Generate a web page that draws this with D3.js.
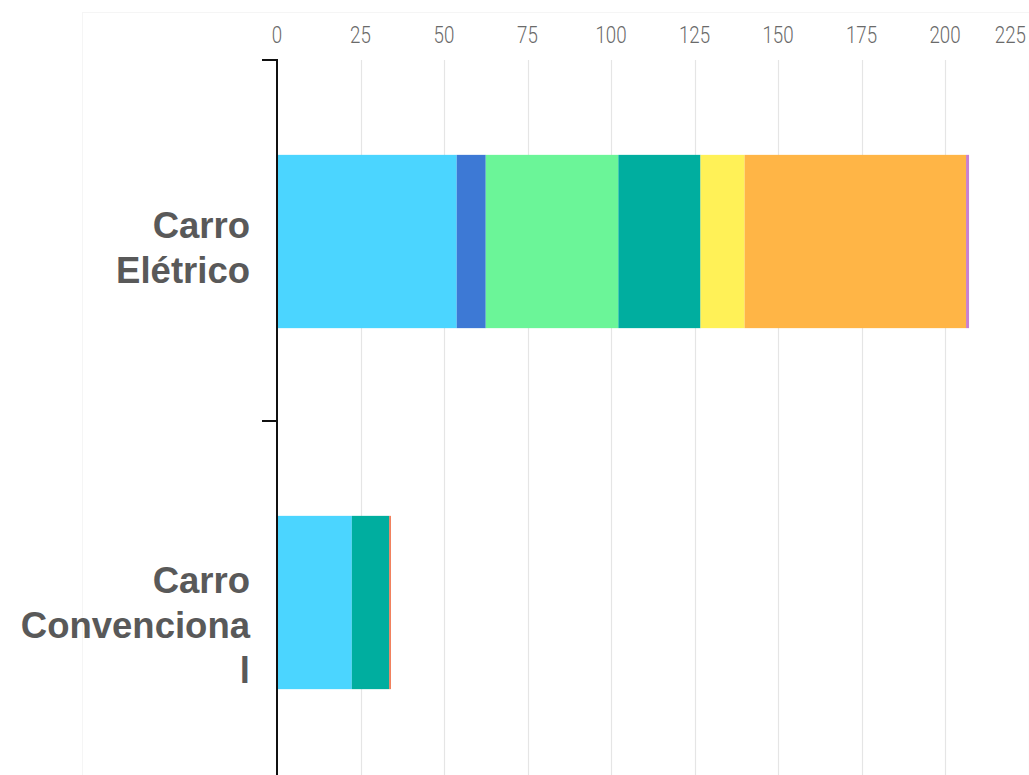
<!DOCTYPE html>
<html>
<head>
<meta charset="utf-8">
<script src="https://cdn.jsdelivr.net/npm/d3@7"></script>
<style>
  html, body { margin: 0; padding: 0; background: #ffffff; }
  svg { display: block; }
</style>
</head>
<body>
<svg id="chart" width="1029" height="775"></svg>
<script>
// Categories shown on the vertical axis
const categories = ["Carro Elétrico", "Carro Convencional"];

// Stacked segments, one array per series (same order as categories)
const seriesNames = ["Série 1", "Série 2", "Série 3", "Série 4", "Série 5", "Série 6", "Série 7", "Série 8"];
const serie1 = [53.8, 22.4];
const serie2 = [8.7, 0];
const serie3 = [39.7, 0];
const serie4 = [24.6, 11.2];
const serie5 = [13.2, 0];
const serie6 = [66.3, 0];
const serie7 = [0.9, 0];
const serie8 = [0, 0.5];

const seriesColors = ["#4bd5ff", "#3d79d5", "#6bf598", "#00ae9f", "#fff157", "#ffb546", "#c880d0", "#f0734c"];

// Axis tick values
const xTicks = [0, 25, 50, 75, 100, 125, 150, 175, 200, 225];

const allSeries = [serie1, serie2, serie3, serie4, serie5, serie6, serie7, serie8];
const rows = categories.map((c, i) => {
  const r = { category: c };
  seriesNames.forEach((s, k) => { r[s] = allSeries[k][i]; });
  return r;
});

const W = 1029, H = 775;
const svg = d3.select("#chart");

const x = d3.scaleLinear().domain([0, 225]).range([277, 1028.5]);
const y = d3.scaleBand().domain(categories).range([60, 782]).padding(0);
const barH = y.bandwidth() * 0.48;

// faint outer frame
svg.append("rect")
  .attr("x", 82.5).attr("y", 12.5)
  .attr("width", W).attr("height", H)
  .attr("fill", "none").attr("stroke", "#f5f5f5").attr("stroke-width", 1);

// vertical gridlines
svg.append("g").selectAll("line")
  .data(xTicks.filter(d => d > 0))
  .join("line")
  .attr("x1", d => Math.round(x(d)) + 0.5)
  .attr("x2", d => Math.round(x(d)) + 0.5)
  .attr("y1", 60).attr("y2", H)
  .attr("stroke", "#e5e5e5").attr("stroke-width", 1.2);

// top tick labels (narrow, tall digits)
const sx = 0.78;
const tickG = svg.append("g");
tickG.selectAll("text")
  .data(xTicks)
  .join("text")
  .attr("text-anchor", "middle")
  .attr("font-family", "Roboto, 'Liberation Sans', sans-serif")
  .attr("font-weight", 300)
  .attr("font-size", 24)
  .attr("fill", "#6a6a6a")
  .text(d => d)
  .each(function (d) {
    const sel = d3.select(this);
    const w = this.getComputedTextLength() * sx;
    let px = x(d);
    if (px + w / 2 > W - 3) px = W - 3 - w / 2;
    sel.attr("transform", `translate(${px},43) scale(${sx},1)`);
  });

// stacked bars
const stack = d3.stack().keys(seriesNames);
const layers = stack(rows);

svg.append("g").selectAll("g")
  .data(layers)
  .join("g")
  .attr("fill", (d, i) => seriesColors[i])
  .selectAll("rect")
  .data(d => d.filter(p => p[1] - p[0] > 0))
  .join("rect")
  .attr("x", p => x(p[0]))
  .attr("width", p => x(p[1]) - x(p[0]))
  .attr("y", p => y(p.data.category) + (y.bandwidth() - barH) / 2 + 1)
  .attr("height", barH);

// vertical axis line with band boundary ticks
const axisG = svg.append("g");
axisG.append("line")
  .attr("x1", 277).attr("x2", 277)
  .attr("y1", 60).attr("y2", H)
  .attr("stroke", "#111").attr("stroke-width", 2);
const bounds = categories.map(c => y(c)).concat([y(categories[categories.length - 1]) + y.bandwidth()]);
axisG.selectAll("line.tk")
  .data(bounds)
  .join("line")
  .attr("class", "tk")
  .attr("x1", 262).attr("x2", 278)
  .attr("y1", d => d).attr("y2", d => d)
  .attr("stroke", "#111").attr("stroke-width", 2);

// category labels, wrapped to a fixed width
const maxW = 234, lineH = 45;
const labelG = svg.append("g")
  .attr("font-family", "'Liberation Sans', Arial, sans-serif")
  .attr("font-weight", "bold")
  .attr("font-size", 36.5)
  .attr("fill", "#595959")
  .attr("text-anchor", "end");

const measure = labelG.append("text").attr("x", -1000).attr("y", -1000);
function textW(s) { measure.text(s); return measure.node().getComputedTextLength(); }

function wrap(label) {
  const words = label.split(" ");
  const lines = [];
  let cur = "";
  words.forEach(w => {
    const trial = cur ? cur + " " + w : w;
    if (textW(trial) <= maxW) { cur = trial; return; }
    if (cur) lines.push(cur);
    cur = "";
    // break an over-long word by characters
    let piece = "";
    for (const ch of w) {
      if (textW(piece + ch) <= maxW) piece += ch;
      else { lines.push(piece); piece = ch; }
    }
    cur = piece;
  });
  if (cur) lines.push(cur);
  return lines;
}

categories.forEach(c => {
  const lines = wrap(c);
  const cy = y(c) + y.bandwidth() / 2;
  const first = cy - 3 - (lines.length - 2) * 6;
  const t = labelG.append("text").attr("x", 250);
  lines.forEach((ln, i) => {
    t.append("tspan").attr("x", 250).attr("y", first + i * lineH).text(ln);
  });
});
measure.remove();
</script>
</body>
</html>
